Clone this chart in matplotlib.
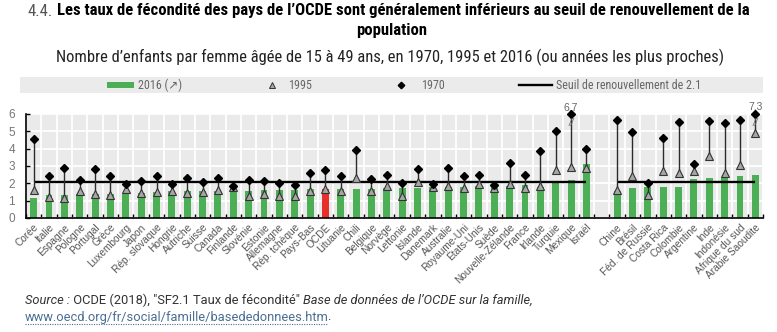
import matplotlib
matplotlib.use("Agg")
import matplotlib.pyplot as plt
from matplotlib import font_manager
from matplotlib.lines import Line2D
from matplotlib.patches import Rectangle
import numpy as np

# ---------------- data ----------------
oecd_countries = ["Corée", "Italie", "Espagne", "Pologne", "Portugal", "Grèce", "Luxembourg",
                  "Japon", "Rép. slovaque", "Hongrie", "Autriche", "Suisse", "Canada", "Finlande",
                  "Slovénie", "Estonie", "Allemagne", "Rép. tchèque", "Pays-Bas", "OCDE", "Lituanie",
                  "Chili", "Belgique", "Norvège", "Lettonie", "Islande", "Danemark", "Australie",
                  "Royaume-Uni", "États-Unis", "Suède", "Nouvelle-Zélande", "France", "Irlande",
                  "Turquie", "Mexique", "Israël"]
partner_countries = ["Chine", "Brésil", "Féd. de Russie", "Costa Rica", "Colombie", "Argentine",
                     "Inde", "Indonésie", "Afrique du sud", "Arabie Saoudite"]

oecd_2016 = [1.17, 1.34, 1.34, 1.39, 1.36, 1.38, 1.41, 1.44, 1.48, 1.53, 1.53, 1.54, 1.54, 1.57,
             1.58, 1.60, 1.60, 1.63, 1.66, 1.68, 1.69, 1.69, 1.68, 1.71, 1.74, 1.75, 1.79, 1.79,
             1.79, 1.82, 1.85, 1.87, 1.92, 1.81, 2.10, 2.18, 3.11]
oecd_1995 = [1.63, 1.19, 1.17, 1.55, 1.41, 1.32, 1.69, 1.42, 1.52, 1.57, 1.42, 1.48, 1.64, 1.81,
             1.29, 1.38, 1.25, 1.28, 1.53, 1.70, 1.55, 2.28, 1.56, 1.87, 1.25, 2.08, 1.80, 1.82,
             1.71, 1.98, 1.73, 1.98, 1.73, 1.84, 2.75, 2.95, 2.88]
oecd_1970 = [4.53, 2.42, 2.88, 2.20, 2.83, 2.40, 1.98, 2.13, 2.41, 1.98, 2.29, 2.10, 2.33, 1.83,
             2.21, 2.16, 2.03, 1.91, 2.57, 2.76, 2.40, 3.95, 2.25, 2.50, 2.00, 2.81, 1.95, 2.86,
             2.43, 2.48, 1.92, 3.17, 2.47, 3.85, 5.00, 6.70, 3.97]

partner_2016 = [1.58, 1.72, 1.76, 1.76, 1.80, 2.27, 2.32, 2.35, 2.42, 2.50]
partner_1995 = [1.60, 2.45, 1.34, 2.70, 2.60, 2.72, 3.55, 2.60, 3.05, 4.90]
partner_1970 = [5.64, 4.96, 2.00, 4.60, 5.55, 3.10, 5.60, 5.50, 5.65, 7.30]

clipped_labels = {"Mexique": "6,7", "Arabie Saoudite": "7.3"}
highlight = "OCDE"
threshold = 2.1
yticks = [0, 1, 2, 3, 4, 5, 6]
ymax = 6

title_num = "4.4."
title_l1 = "Les taux de fécondité des pays de l\u2019OCDE sont généralement inférieurs au seuil de renouvellement de la"
title_l2 = "population"
subtitle = "Nombre d\u2019enfants par femme âgée de 15 à 49 ans, en 1970, 1995 et 2016 (ou années les plus proches)"
legend_labels = ["2016 (\u2197)", "1995", "1970", "Seuil de renouvellement de 2.1"]

# ---------------- styling ----------------
GREEN = "#4DAF55"
RED = "#E8302A"
BG = "#EAEAEA"
W, H = 777, 332

available = {f.name for f in font_manager.fontManager.ttflist}
def pick(*names):
    for n in names:
        if n in available:
            return n
    return "DejaVu Sans"

COND = pick("Roboto Condensed", "Liberation Sans Narrow", "Open Sans Condensed", "Roboto")
ARIAL = pick("Liberation Sans", "Arial")
ROBOTO = pick("Roboto", "Open Sans")

fig = plt.figure(figsize=(W / 100, H / 100), dpi=100)
fig.patch.set_facecolor("white")
renderer = fig.canvas.get_renderer()

def fx(x):
    return x / W
def fy(y):
    return 1 - y / H
def twidth(t):
    return t.get_window_extent(renderer).width

# ---------------- axes ----------------
ax = fig.add_axes([fx(26), fy(218), (763 - 26) / W, (218 - 114) / H])
ax.set_facecolor(BG)

labels = oecd_countries + partner_countries
n_oecd = len(oecd_countries)
xpos = np.array(list(range(n_oecd)) + list(range(n_oecd + 1, n_oecd + 1 + len(partner_countries))))
v2016 = np.array(oecd_2016 + partner_2016)
v1995 = np.array(oecd_1995 + partner_1995)
v1970 = np.array(oecd_1970 + partner_1970)
v1970_draw = np.minimum(v1970, ymax)

colors = [RED if c == highlight else GREEN for c in labels]
ax.bar(xpos, v2016, width=0.45, color=colors, zorder=2)

ax.hlines(threshold, xpos[0], xpos[n_oecd - 1], color="black", lw=1.7, zorder=3)
ax.hlines(threshold, xpos[n_oecd], xpos[-1], color="black", lw=1.7, zorder=3)

ax.vlines(xpos, np.minimum(v1995, v1970_draw), np.maximum(v1995, v1970_draw),
          color="#2b2b2b", lw=1.0, zorder=4)
ax.plot(xpos, v1995, linestyle="none", marker="^", markersize=5.2,
        markerfacecolor="#A6A6A6", markeredgecolor="#333333", markeredgewidth=0.8, zorder=5)
ax.plot(xpos, v1970_draw, linestyle="none", marker="D", markersize=3.9,
        color="black", zorder=6, clip_on=False)

for name, txt in clipped_labels.items():
    i = labels.index(name)
    ax.text(xpos[i], 5.5, "//", ha="center", va="center", fontsize=7, color="#666666",
            family=ARIAL, style="italic", zorder=7)
    ax.text(xpos[i], 6.1, txt, ha="center", va="bottom", fontsize=7.5, color="#666666",
            family=ARIAL, clip_on=False)

ax.set_xlim(-0.5, xpos[-1] + 0.5)
ax.set_ylim(0, ymax)
ax.set_yticks(yticks)
ax.set_yticklabels([str(t) for t in yticks], fontsize=8.5, color="#777777", family=ARIAL)
ax.set_xticks(xpos)
ax.set_xticklabels(labels, rotation=45, ha="right", rotation_mode="anchor",
                   fontsize=7.3, color="#555555", family=ARIAL)
ax.set_xticks(np.arange(-0.5, xpos[-1] + 1), minor=True)
ax.tick_params(axis="x", which="major", length=0, pad=3)
ax.tick_params(axis="x", which="minor", direction="in", length=3, color="black", width=1)
ax.tick_params(axis="y", direction="in", length=3, color="black", width=1, pad=8)
ax.grid(axis="y", which="major", color="white", lw=1.3, zorder=0)
ax.grid(axis="x", which="minor", color="white", lw=1.3, zorder=0)
ax.set_axisbelow(True)
for s in ["top", "right"]:
    ax.spines[s].set_visible(False)
for s in ["left", "bottom"]:
    ax.spines[s].set_color("black")
    ax.spines[s].set_linewidth(1.2)

# ---------------- titles ----------------
def fit(t, target, base):
    w = twidth(t)
    t.set_fontsize(base * target / w)

fs = 11
t_num = fig.text(fx(28), fy(11), title_num, fontsize=fs, family=COND, color="#555555", va="center")
t_bold = fig.text(0, fy(11), title_l1, fontsize=fs, family=COND, fontweight="bold",
                  color="black", va="center")
for _ in range(3):
    wn = twidth(t_num)
    sp = fs * 0.35
    wb = twidth(t_bold)
    total = wn + sp + wb
    fs = fs * (750 - 28) / total
    t_num.set_fontsize(fs)
    t_bold.set_fontsize(fs)
t_bold.set_x(fx(28 + twidth(t_num) + fs * 0.35))
fig.text(fx(392), fy(31), title_l2, fontsize=fs, family=COND, fontweight="bold",
         color="black", ha="center", va="center")

t_sub = fig.text(fx(390), fy(57), subtitle, fontsize=11, family=COND, color="#222222",
                 ha="center", va="center")
fit(t_sub, 665, 11)

# ---------------- legend band ----------------
fig.patches.append(Rectangle((fx(20), fy(93)), (763 - 20) / W, 16 / H, transform=fig.transFigure,
                             facecolor="#EBEBEB", edgecolor="none", zorder=0))
ly = fy(85)
fig.patches.append(Rectangle((fx(107), fy(88)), 27 / W, 6 / H, transform=fig.transFigure,
                             facecolor=GREEN, edgecolor="none", zorder=1))
fig.lines.append(Line2D([fx(272)], [ly + 0.5 / H], transform=fig.transFigure, linestyle="none",
                        marker="^", markersize=4.5, markerfacecolor="#A6A6A6",
                        markeredgecolor="#333333", markeredgewidth=0.7))
fig.lines.append(Line2D([fx(401)], [ly], transform=fig.transFigure, linestyle="none",
                        marker="D", markersize=3.3, color="black"))
fig.lines.append(Line2D([fx(519), fx(552)], [ly, ly], transform=fig.transFigure,
                        color="black", lw=1.7))
leg_x = [138, 288, 421, 556]
leg_texts = []
for x, lab in zip(leg_x, legend_labels):
    leg_texts.append(fig.text(fx(x), ly, lab, fontsize=8, family=[COND, "DejaVu Sans"],
                              color="#666666", va="center", ha="left"))
fit(leg_texts[3], 145, 8)
for t in leg_texts[:3]:
    t.set_fontsize(leg_texts[3].get_fontsize())

# ---------------- source ----------------
segs = [("Source :", "italic"), (" OCDE (2018), \"SF2.1 Taux de fécondité\" ", "normal"),
        ("Base de données de l\u2019OCDE sur la famille,", "italic")]
sfs = 8.5
src = []
for txt, st in segs:
    src.append(fig.text(0, fy(300), txt, fontsize=sfs, family=ROBOTO, style=st, color="#333333",
                        va="center"))
tot = sum(twidth(t) for t in src)
sfs = sfs * 505 / tot
x = 25
for t in src:
    t.set_fontsize(sfs)
    t.set_x(fx(x))
    x += twidth(t)
url = fig.text(fx(25), fy(317), "www.oecd.org/fr/social/famille/basededonnees.htm", fontsize=sfs,
               family=ROBOTO, color="#4A6E93", va="center")
uw = twidth(url)
fig.text(fx(25 + uw - 1.5), fy(317), ".", fontsize=sfs, family=ROBOTO, color="#333333", va="center")
fig.lines.append(Line2D([fx(25), fx(25 + uw - 1)], [fy(324), fy(324)], transform=fig.transFigure,
                        color="#4A6E93", lw=0.8, linestyle=(0, (1, 1.2))))

fig.savefig("out.png", dpi=100, facecolor="white")
